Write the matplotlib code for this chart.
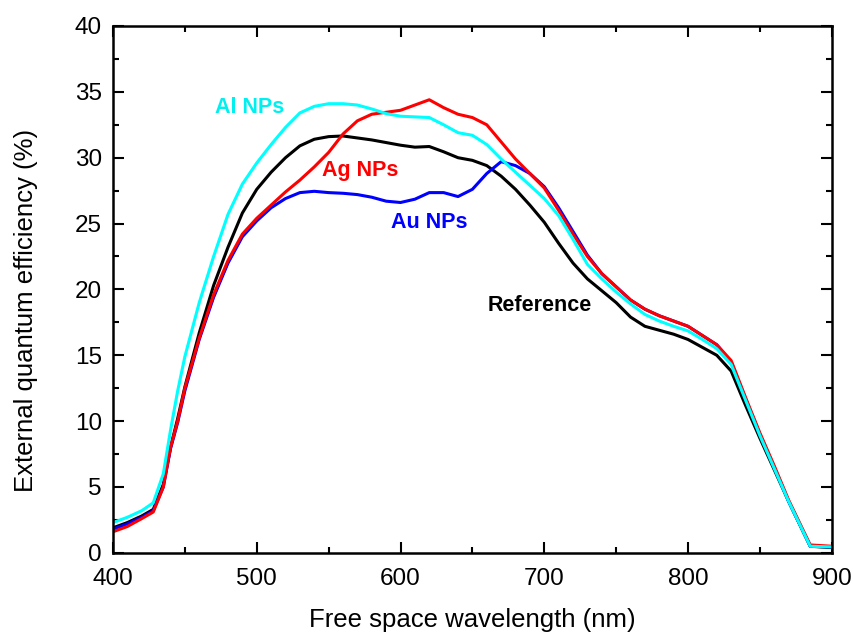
import numpy as np
import matplotlib
matplotlib.use("Agg")
import matplotlib.pyplot as plt
from matplotlib.ticker import MultipleLocator

plt.rcParams['font.family'] = ['Liberation Sans', 'DejaVu Sans']

# wavelength grid (nm)
wl = [400, 410, 420, 428, 435, 440, 445, 450, 460, 470, 480, 490, 500, 510, 520,
      530, 540, 550, 560, 570, 580, 590, 600, 610, 620, 630, 640, 650, 660, 670,
      680, 690, 700, 710, 720, 730, 740, 750, 760, 770, 780, 790, 800, 810, 820,
      830, 840, 850, 860, 870, 885, 900]

ref = [1.9, 2.3, 2.8, 3.3, 5.2, 8.0, 10.2, 12.6, 16.7, 20.3, 23.2, 25.8, 27.6, 28.9, 30.0,
       30.9, 31.4, 31.6, 31.65, 31.5, 31.35, 31.15, 30.95, 30.8, 30.85, 30.45, 30.0, 29.8, 29.4, 28.6,
       27.6, 26.4, 25.1, 23.5, 22.0, 20.8, 19.9, 19.0, 17.9, 17.2, 16.9, 16.6, 16.2, 15.6, 15.0,
       13.8, 11.2, 8.7, 6.3, 3.9, 0.5, 0.4]

ag = [1.6, 2.0, 2.6, 3.1, 5.0, 8.0, 10.0, 12.5, 16.3, 19.6, 22.2, 24.2, 25.4, 26.4, 27.4,
      28.3, 29.3, 30.4, 31.8, 32.8, 33.3, 33.45, 33.6, 34.0, 34.4, 33.8, 33.3, 33.05, 32.5, 31.2,
      29.9, 28.8, 27.7, 26.0, 24.2, 22.5, 21.2, 20.2, 19.2, 18.5, 18.0, 17.6, 17.2, 16.5, 15.8,
      14.6, 11.8, 9.1, 6.6, 4.0, 0.6, 0.5]

au = [1.8, 2.2, 2.7, 3.2, 5.0, 7.9, 9.9, 12.3, 16.2, 19.4, 22.0, 24.0, 25.2, 26.2, 26.9,
      27.35, 27.45, 27.35, 27.3, 27.2, 27.0, 26.7, 26.6, 26.85, 27.35, 27.35, 27.05, 27.6, 28.8, 29.7,
      29.4, 28.8, 27.8, 26.2, 24.4, 22.6, 21.2, 20.2, 19.2, 18.5, 18.0, 17.6, 17.2, 16.5, 15.8,
      14.5, 11.7, 9.0, 6.5, 3.9, 0.5, 0.45]

al = [2.3, 2.7, 3.2, 3.8, 6.0, 9.3, 12.3, 14.9, 19.0, 22.5, 25.7, 28.0, 29.6, 31.0, 32.3,
      33.4, 33.9, 34.1, 34.1, 34.0, 33.7, 33.35, 33.15, 33.1, 33.05, 32.5, 31.9, 31.7, 31.0, 29.9,
      28.9, 27.9, 26.9, 25.6, 23.8, 21.9, 20.8, 19.8, 18.9, 18.1, 17.6, 17.2, 16.85, 16.2, 15.5,
      14.3, 11.6, 8.9, 6.4, 3.9, 0.5, 0.45]

fig = plt.figure(figsize=(8.54, 6.34), dpi=100)
ax = fig.add_axes([0.1323, 0.128, 0.8417, 0.831])

lw = 2.2
ax.plot(wl, ref, color='black', lw=lw)
ax.plot(wl, au, color='#0000ff', lw=lw)
ax.plot(wl, ag, color='#ff0000', lw=lw)
ax.plot(wl, al, color='#00ffff', lw=lw)

lab = dict(fontsize=15.5, fontweight='bold', ha='center', va='center')
ax.text(495, 33.8, 'Al NPs', color='#00f0f0', **lab)
ax.text(572, 29.0, 'Ag NPs', color='#ff0000', **lab)
ax.text(620, 25.1, 'Au NPs', color='#0000ff', **lab)
ax.text(697, 18.75, 'Reference', color='black', **lab)

ax.set_xlim(400, 900)
ax.set_ylim(0, 40)
ax.xaxis.set_major_locator(MultipleLocator(100))
ax.xaxis.set_minor_locator(MultipleLocator(50))
ax.yaxis.set_major_locator(MultipleLocator(5))
ax.yaxis.set_minor_locator(MultipleLocator(2.5))
ax.tick_params(which='both', direction='in', top=True, right=True, width=1.5, labelsize=17.5)
ax.tick_params(which='major', length=8)
ax.tick_params(which='minor', length=4)
ax.tick_params(axis='x', pad=11)
ax.tick_params(axis='y', pad=8)
for s in ax.spines.values():
    s.set_linewidth(1.8)

ax.set_xlabel('Free space wavelength (nm)', fontsize=18.5)
ax.set_ylabel('External quantum efficiency (%)', fontsize=18.5)
ax.xaxis.set_label_coords(0.5, -0.104)
ax.yaxis.set_label_coords(-0.104, 0.46)

fig.savefig('out.png', dpi=100)
